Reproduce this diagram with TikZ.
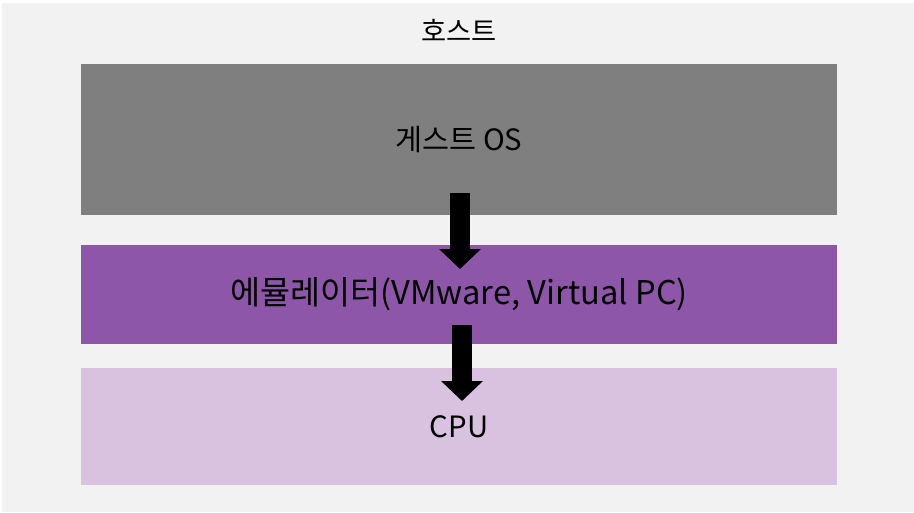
\documentclass[tikz,border=0pt]{standalone}
\usepackage{fontspec}
\setmainfont{Noto Sans CJK KR}
\usetikzlibrary{arrows.meta}
\definecolor{HostGray}{HTML}{F2F2F2}
\definecolor{GuestGray}{HTML}{7F7F7F}
\definecolor{EmuPurple}{HTML}{8E56A8}
\definecolor{CpuLilac}{HTML}{D8C2E0}

\begin{document}
\begin{tikzpicture}[x=0.75pt,y=0.75pt,yscale=-1,xscale=1,
		layer/.style={minimum width=567pt, inner sep=0pt, text=black},
		downarrow/.style={line width=15pt, -{Triangle[width=30.5pt, length=15pt]}}]
		% Set diagram size to 914 x 512
		\useasboundingbox (0,0) rectangle (914,512);
		\fill[white] (0,0) rectangle (914,512);

		% Draw the light gray host area
		\fill[HostGray] (2,3) rectangle (914,512);

		% The word "호스트" on top of the host area
		\node[inner sep=0pt, font=\fontsize{20.5}{22}\selectfont] (host) at (459,30) {호스트};

		% The three layers, top to bottom
		\node[layer, fill=GuestGray, minimum height=113.25pt, font=\fontsize{22}{24}\selectfont] (guest) at (459,139.5) {게스트 OS};
		\node[layer, fill=EmuPurple, minimum height=74.25pt, font=\fontsize{24.5}{26}\selectfont] (emu) at (459,294.5) {에뮬레이터(VMware, Virtual PC)};
		\node[layer, fill=CpuLilac, minimum height=87.75pt, font=\fontsize{22}{24}\selectfont] (cpu) at (459,426.5) {CPU};

		% End points of the black arrows between the layers
		\coordinate (guestout) at (460,193);
		\coordinate (emuin) at (460,269);
		\coordinate (emuout) at (462,325);
		\coordinate (cpuin) at (462,401);

		% Draw the arrows
		\draw[downarrow] (guestout) -- (emuin);
		\draw[downarrow] (emuout) -- (cpuin);
	\end{tikzpicture}
\end{document}
